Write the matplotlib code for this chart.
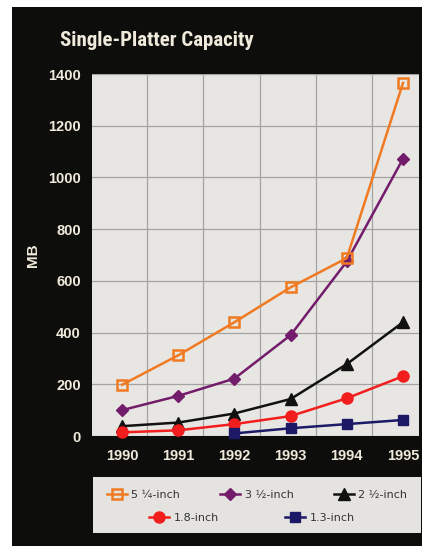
import numpy as np
import matplotlib
matplotlib.use('Agg')
import matplotlib.pyplot as plt
from matplotlib.patches import Rectangle

years = [1990, 1991, 1992, 1993, 1994, 1995]
cap_525 = [198, 312, 440, 575, 688, 1365]
cap_35 = [100, 155, 222, 390, 675, 1072]
cap_25 = [38, 52, 87, 143, 278, 440]
cap_18 = [14, 22, 46, 77, 146, 231]
years_13 = [1992, 1993, 1994, 1995]
cap_13 = [10, 30, 46, 62]
yticks = [0, 200, 400, 600, 800, 1000, 1200, 1400]
labels = ['5 \u00bc-inch', '3 \u00bd-inch', '2 \u00bd-inch', '1.8-inch', '1.3-inch']

W, H = 431, 546
fig = plt.figure(figsize=(W/100, H/100), dpi=100)
fig.patch.set_facecolor('white')

# black panel behind everything
fig.patches.append(Rectangle((12/W, 0), (422-12)/W, 1-7/H, transform=fig.transFigure,
                             facecolor='#0d0d0b', edgecolor='none', zorder=-2))

cream = '#efeadb'
fig.text(60/W, 1-40/H, 'Single-Platter Capacity', color=cream, fontsize=15,
         fontweight='bold', family=['Roboto Condensed', 'DejaVu Sans'],
         va='center', ha='left')

ax = fig.add_axes([92/W, 1-436/H, (419-92)/W, (436-74)/H])
ax.set_zorder(1)
ax.set_facecolor('#e7e6e2')
for s in ax.spines.values():
    s.set_visible(False)

ax.set_xlim(1989.466, 1995.285)
ax.set_ylim(0, 1400)
ax.set_xticks(years)
ax.set_yticks(yticks)
ax.set_xticks([y + 0.45 for y in years[:-1]], minor=True)
ax.grid(axis='x', which='minor', color='#a3a3a1', lw=0.9)
ax.grid(axis='y', which='major', color='#a3a3a1', lw=0.9)
ax.tick_params(which='both', length=0)
ax.tick_params(axis='x', pad=9)
ax.tick_params(axis='y', pad=8)
for lab in ax.get_xticklabels() + ax.get_yticklabels():
    lab.set_color(cream)
    lab.set_fontweight('bold')
    lab.set_fontsize(10.5)
    lab.set_family(['Liberation Sans', 'DejaVu Sans'])
ax.set_ylabel('MB', color=cream, fontsize=11, fontweight='bold',
              family=['Liberation Sans', 'DejaVu Sans'], labelpad=6)
ax.set_axisbelow(True)

lw = 1.8
h1, = ax.plot(years, cap_525, color='#f07a22', lw=lw, marker='s', ms=7.5,
              mfc='none', mew=1.8, clip_on=False, zorder=5)
h2, = ax.plot(years, cap_35, color='#731c6b', lw=lw, marker='D', ms=6.5,
              clip_on=False, zorder=4)
h3, = ax.plot(years, cap_25, color='#111111', lw=lw, marker='^', ms=8,
              clip_on=False, zorder=3)
h4, = ax.plot(years, cap_18, color='#f21d1d', lw=lw, marker='o', ms=8,
              clip_on=False, zorder=3)
h5, = ax.plot(years_13, cap_13, color='#1c1a66', lw=lw, marker='s', ms=7.5,
              clip_on=False, zorder=3)

# legend box
fig.patches.append(Rectangle((93/W, 1-533/H), (421-93)/W, (533-477)/H,
                             transform=fig.transFigure, facecolor='#e4e3df',
                             edgecolor='none', zorder=-1))
lkw = dict(frameon=False, fontsize=8, handlelength=1.8, handletextpad=0.4,
           labelcolor='#333333', borderpad=0, borderaxespad=0)
leg1 = fig.legend([h1, h2, h3], labels[:3], ncol=3, loc='center',
                  bbox_to_anchor=(257/W, 1-495/H), columnspacing=3.6, **lkw)
leg2 = fig.legend([h4, h5], labels[3:], ncol=2, loc='center',
                  bbox_to_anchor=(252/W, 1-518/H), columnspacing=6.0, **lkw)
for lg in (leg1, leg2):
    lg.set_zorder(2)

fig.savefig('out.png', dpi=100, facecolor=fig.get_facecolor())
